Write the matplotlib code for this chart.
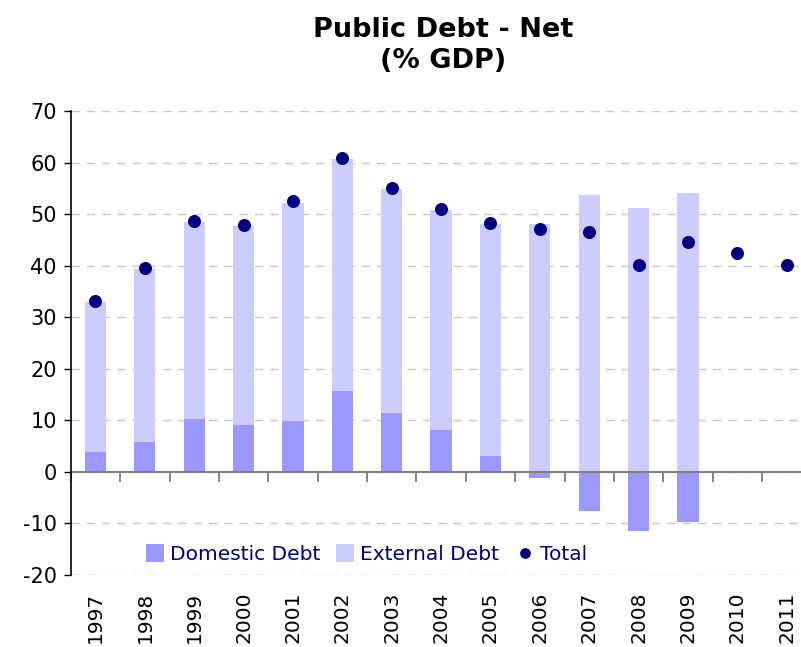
import numpy as np
import matplotlib
matplotlib.use("Agg")
import matplotlib.pyplot as plt

plt.rcParams["axes.unicode_minus"] = False

years = ["1997", "1998", "1999", "2000", "2001", "2002", "2003", "2004",
         "2005", "2006", "2007", "2008", "2009", "2010", "2011"]
domestic = [3.8, 5.8, 10.2, 9.1, 9.8, 15.7, 11.4, 8.1, 3.1, -1.1, -7.5, -11.5, -9.7, np.nan, np.nan]
external = [29.1, 33.5, 38.3, 38.6, 42.3, 45.0, 43.5, 42.7, 45.0, 48.1, 53.7, 51.2, 54.1, np.nan, np.nan]
total = [33.1, 39.5, 48.7, 47.9, 52.5, 60.9, 55.0, 50.9, 48.3, 47.2, 46.5, 40.2, 44.6, 42.4, 40.2]

dom = np.array(domestic, dtype=float)
ext = np.array(external, dtype=float)
tot = np.array(total, dtype=float)
x = np.arange(len(years))
ext_bottom = np.where(dom > 0, dom, 0.0)

fig = plt.figure(figsize=(8.01, 6.47), dpi=100)
ax = fig.add_axes([0.0884, 0.1113, 0.9246, 0.7172])

c_dom = "#9999FF"
c_ext = "#CCCCFF"
c_tot = "#000080"

h_dom = ax.bar(x, dom, width=0.43, color=c_dom, label="Domestic Debt", zorder=2)
h_ext = ax.bar(x, ext, width=0.43, bottom=ext_bottom, color=c_ext, label="External Debt", zorder=2)
h_tot = ax.scatter(x, tot, s=70, color=c_tot, label="Total", zorder=3)

ax.set_xlim(-0.5, len(years) - 0.5)
ax.set_ylim(-20, 70)
ax.set_yticks(np.arange(-20, 71, 10))
ax.tick_params(axis="y", labelsize=15, length=5, width=1, direction="out", pad=5)
ax.yaxis.grid(True, linestyle=(0, (6, 5)), color="#C8C8C8", linewidth=1)
ax.set_axisbelow(True)

ax.set_xticks(x)
ax.set_xticklabels(years, rotation=90, fontsize=14.5)
ax.tick_params(axis="x", length=0, pad=12)

for s in ["top", "right", "bottom"]:
    ax.spines[s].set_visible(False)
ax.spines["left"].set_color("black")
ax.spines["left"].set_linewidth(1.2)

ax.axhline(0, color="#808080", linewidth=1.5, zorder=2.5)
sec = ax.secondary_xaxis(20 / 90)
sec.set_xticks(np.arange(-0.5, len(years), 1.0))
sec.set_xticklabels([])
sec.tick_params(axis="x", length=7, width=1.2, color="#707070", direction="out")
sec.spines["bottom"].set_visible(False)

leg = ax.legend(handles=[h_dom, h_ext, h_tot], loc="center left",
                bbox_to_anchor=(0.09, 0.045), ncol=3, frameon=False,
                fontsize=14.5, handlelength=0.9, handleheight=1.0, handletextpad=0.3,
                columnspacing=0.8, borderaxespad=0, markerscale=0.8)
for t in leg.get_texts():
    t.set_color(c_tot)

fig.text(0.553, 0.93, "Public Debt - Net\n(% GDP)", ha="center", va="center",
         fontsize=19.5, fontweight="bold", linespacing=1.25)

fig.savefig("out.png", dpi=100)
